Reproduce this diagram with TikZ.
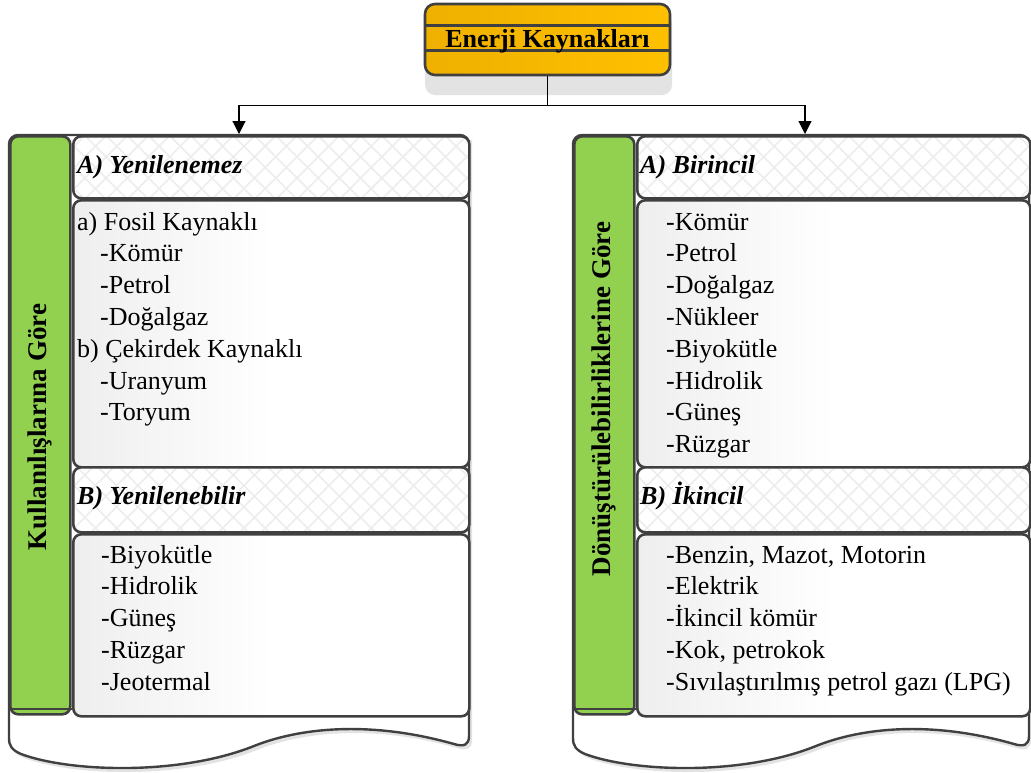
\documentclass[tikz,border=0pt]{standalone}
\usepackage{fontspec}
\setmainfont{Liberation Serif}
\usetikzlibrary{arrows.meta,patterns.meta,calc}
\definecolor{bordc}{HTML}{404040}
\definecolor{grn}{HTML}{92D050}
\definecolor{orA}{HTML}{EFB000}
\definecolor{orB}{HTML}{FFC000}
\definecolor{hatchc}{HTML}{EDEDED}
\definecolor{shadowc}{HTML}{E3E3E3}
\definecolor{cgray}{HTML}{EEEEEE}
\begin{document}
\begin{tikzpicture}[x=1pt,y=-1pt,
  bord/.style={draw=bordc,line width=2.6pt},
  hdr/.style={bord,rounded corners=8pt,anchor=north west,inner sep=0pt,
     preaction={fill=white},
     preaction={pattern={Lines[angle=45,distance=15pt,line width=1.6pt]},pattern color=hatchc},
     preaction={pattern={Lines[angle=-45,distance=15pt,line width=1.6pt]},pattern color=hatchc}},
  cbox/.style={bord,rounded corners=8pt,anchor=north west,inner sep=0pt,
     left color=cgray,right color=white,middle color=white},
  gbar/.style={bord,rounded corners=8pt,anchor=north west,inner sep=0pt,fill=grn},
  vlab/.style={rotate=90,font=\fontsize{27}{30}\selectfont\bfseries,inner sep=0pt},
  item/.style={anchor=base west,inner sep=0pt,font=\fontsize{26}{30}\selectfont},
  hitem/.style={item,font=\fontsize{26}{30}\selectfont\bfseries\itshape},
  conn/.style={draw=black,line width=1.1pt},
  tip/.style={-{Triangle[length=13pt,width=13pt]}},
  outl/.style={fill=white,draw=bordc,line width=2.4pt}]
\useasboundingbox (0,0) rectangle (1031,772);

% ---------- outer wavy panels (left) ----------
\fill[shadowc] (12,742) -- (12,140) -- (472,140) -- (472,740)
  .. controls (472,749) and (467,751) .. (457,748)
  .. controls (372,724) and (302,732) .. (257,750)
  .. controls (182,780) and (72,776) .. (24,758)
  .. controls (15,754) and (12,750) .. (12,742) -- cycle;
\path[outl] (9,738) [rounded corners=9pt]-- (9,135) -- (469,135) [sharp corners]-- (469,736)
  .. controls (469,745) and (464,747) .. (454,744)
  .. controls (369,720) and (299,728) .. (254,746)
  .. controls (179,776) and (69,772) .. (21,754)
  .. controls (12,750) and (9,746) .. (9,738) -- cycle;
% ---------- outer wavy panels (right) ----------
\fill[shadowc] (576,742) -- (576,140) -- (1031,140) -- (1031,740)
  .. controls (1031,749) and (1026,751) .. (1016,748)
  .. controls (932,724) and (863,732) .. (818,750)
  .. controls (744,780) and (635,776) .. (588,758)
  .. controls (579,754) and (576,750) .. (576,742) -- cycle;
\path[outl] (573,738) [rounded corners=9pt]-- (573,135) -- (1029,135) [sharp corners]-- (1029,736)
  .. controls (1029,745) and (1024,747) .. (1014,744)
  .. controls (930,720) and (861,728) .. (816,746)
  .. controls (742,776) and (633,772) .. (585,754)
  .. controls (576,750) and (573,746) .. (573,738) -- cycle;

% ---------- title ----------
\fill[shadowc,rounded corners=10pt] (425,14) rectangle (672,95);
\node[bord,rounded corners=10pt,minimum width=245pt,minimum height=71pt,inner sep=0pt,
      left color=orA,right color=orB] (title) at (547.5,39.5) {};
\draw[draw=bordc,line width=2.6pt] ($(title.north west)+(0,23)$) -- ($(title.north east)+(0,23)$);
\draw[draw=bordc,line width=2.6pt] ($(title.north west)+(0,48)$) -- ($(title.north east)+(0,48)$);
\node[anchor=base,inner sep=0pt,font=\fontsize{26}{30}\selectfont\bfseries] (titletext) at (547.5,47) {Enerji Kaynakları};

% ---------- connectors ----------
\coordinate (lpTop) at (239,134);
\coordinate (rpTop) at (805,134);
\draw[conn] (title.south) -- ($(title.south)+(0,29)$) coordinate (jn);
\draw[conn,tip] (jn) -| (lpTop);
\draw[conn,tip] (jn) -| (rpTop);

% ---------- left panel ----------
\node[gbar,minimum width=60pt,minimum height=578pt] (lg) at (9,135) {};
\draw[draw=bordc,line width=2pt] ($(lg.south west)+(0,-7)$) -- ($(lg.south east)+(0,-7)$);
\node[vlab] (lglab) at (40,427) {Kullanılışlarına Göre};

\node[hdr,minimum width=396pt,minimum height=62pt] (lhA) at (72,135) {};
\node[cbox,minimum width=396pt,minimum height=267pt] (lcA) at (72,199) {};
\node[hdr,minimum width=396pt,minimum height=65pt] (lhB) at (72,466) {};
\node[cbox,minimum width=396pt,minimum height=182pt] (lcB) at (72,533) {};

\node[hitem] (lhAt) at (77,173) {A) Yenilenemez};
\node[hitem] (lhBt) at (77,504) {B) Yenilenebilir};

\foreach \t/\xx [count=\i] in {a) Fosil Kaynaklı/77,-Kömür/100,-Petrol/100,-Doğalgaz/100,b) Çekirdek Kaynaklı/77,-Uranyum/100,-Toryum/100}
  \node[item] (la\i) at (\xx,{230+31.8*(\i-1)}) {\t};
\foreach \t [count=\i] in {-Biyokütle,-Hidrolik,-Güneş,-Rüzgar,-Jeotermal}
  \node[item] (lb\i) at (101,{563+31.8*(\i-1)}) {\t};

% ---------- right panel ----------
\node[gbar,minimum width=60pt,minimum height=578pt] (rg) at (573,135) {};
\draw[draw=bordc,line width=2pt] ($(rg.south west)+(0,-7)$) -- ($(rg.south east)+(0,-7)$);
\node[vlab] (rglab) at (604,399) {Dönüştürülebilirliklerine Göre};

\node[hdr,minimum width=393pt,minimum height=62pt] (rhA) at (636,135) {};
\node[cbox,minimum width=393pt,minimum height=267pt] (rcA) at (636,199) {};
\node[hdr,minimum width=393pt,minimum height=65pt] (rhB) at (636,466) {};
\node[cbox,minimum width=393pt,minimum height=182pt] (rcB) at (636,533) {};

\node[hitem] (rhAt) at (640,173) {A) Birincil};
\node[hitem] (rhBt) at (640,504) {B) İkincil};

\foreach \t [count=\i] in {-Kömür,-Petrol,-Doğalgaz,-Nükleer,-Biyokütle,-Hidrolik,-Güneş,-Rüzgar}
  \node[item] (ra\i) at (666,{230+31.8*(\i-1)}) {\t};
\foreach \t [count=\i] in {{-Benzin, Mazot, Motorin},-Elektrik,-İkincil kömür,{-Kok, petrokok},-Sıvılaştırılmış petrol gazı (LPG)}
  \node[item] (rb\i) at (666,{563+31.8*(\i-1)}) {\t};
\end{tikzpicture}
\end{document}
